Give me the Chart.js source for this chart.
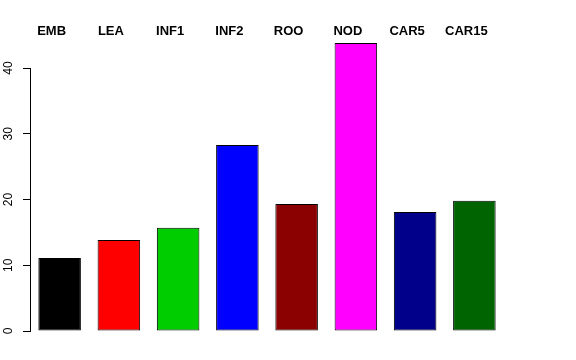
<!DOCTYPE html>
<html>
<head>
<meta charset="utf-8">
<script src="https://cdn.jsdelivr.net/npm/chart.js@4/dist/chart.umd.min.js"></script>
<style>
  html, body { margin: 0; padding: 0; background: #fff; }
  #wrap { width: 576px; height: 360px; }
</style>
</head>
<body>
<div id="wrap"><canvas id="graph"></canvas></div>
<script>
// Werte
const categories = ['EMB', 'LEA', 'INF1', 'INF2', 'ROO', 'NOD', 'CAR5', 'CAR15'];
const values = [11.1, 13.85, 15.7, 28.3, 19.3, 43.8, 18.1, 19.8];
const barColors = ['#000000', '#FF0000', '#00CD00', '#0000FF', '#8B0000', '#FF00FF', '#00008B', '#006400'];
const yTicks = [0, 10, 20, 30, 40];

Chart.defaults.font.family = '"Liberation Sans", Arial, Helvetica, sans-serif';
Chart.defaults.color = '#000';

const ctx = document.getElementById('graph').getContext('2d');

const chart = new Chart(ctx, {
  type: 'bar',
  data: {
    labels: categories,
    datasets: [
      {
        data: values,
        backgroundColor: barColors,
        borderColor: '#000',
        borderWidth: 1,
        borderSkipped: false,
        barPercentage: 0.718,
        categoryPercentage: 1,
        clip: false,
      },
    ],
  },
  options: {
    responsive: true,
    maintainAspectRatio: false,
    animation: false,
    layout: {
      padding: { left: 0, right: 72, top: 0, bottom: 29 },
    },
    plugins: {
      legend: { display: false },
      tooltip: { enabled: false },
    },
    scales: {
      x: {
        position: 'top',
        grid: { display: false, drawTicks: false },
        border: { display: false },
        ticks: {
          padding: 29,
          labelOffset: -8,
          font: { size: 13, weight: 'bold' },
          color: '#000',
          maxRotation: 0,
          autoSkip: false,
        },
        afterFit: (scale) => {
          scale.height = 68;
        },
      },
      y: {
        min: 0,
        max: 40,
        afterBuildTicks: (scale) => {
          scale.ticks = yTicks.map((v) => ({ value: v }));
        },
        grid: {
          drawOnChartArea: false,
          drawTicks: true,
          tickLength: 7,
          color: '#000',
        },
        border: { display: true, color: '#000' },
        ticks: {
          minRotation: 90,
          maxRotation: 90,
          crossAlign: 'center',
          padding: 8,
          font: { size: 12 },
          color: '#000',
        },
        afterFit: (scale) => {
          scale.width = 30;
        },
      },
    },
  },
});
</script>
</body>
</html>
